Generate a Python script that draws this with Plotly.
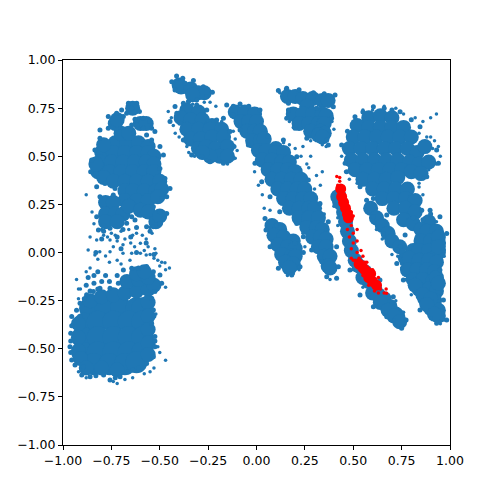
"""Scatter of two point sets. Dense blobs use bigger markers to stand in for many overlapped dots."""
import plotly.graph_objects as go

BLUE = '#1f77b4'
TICKS = [-1.0, -0.75, -0.5, -0.25, 0.0, 0.25, 0.5, 0.75, 1.0]

# (x, y)
lower_left_large = [
    (-.86, -.29), (-.78, -.29), (-.70, -.29), (-.62, -.29), (-.59, -.29),
    (-.89, -.37), (-.82, -.36), (-.74, -.36), (-.66, -.36), (-.59, -.36),
    (-.90, -.44), (-.82, -.44), (-.74, -.44), (-.66, -.44), (-.59, -.44),
    (-.90, -.52), (-.82, -.52), (-.74, -.52), (-.66, -.52), (-.59, -.52),
    (-.84, -.58), (-.76, -.58), (-.68, -.58), (-.62, -.57),
]
lower_left_mid = [
    (-.86, -.25), (-.80, -.23), (-.74, -.22), (-.68, -.21), (-.62, -.20), (-.56, -.19), (-.53, -.17),
    (-.67, -.15), (-.61, -.14), (-.56, -.13), (-.62, -.11), (-.58, -.10),
    (-.92, -.37), (-.92, -.44), (-.92, -.51), (-.91, -.55), (-.88, -.60), (-.80, -.60), (-.72, -.61),
    (-.56, -.26), (-.56, -.33), (-.56, -.40), (-.56, -.47), (-.56, -.53),
]
lower_left_edge = [
    (-.955, -.333), (-.96, -.42), (-.964, -.489), (-.955, -.558), (-.938, -.584), (-.895, -.593), (-.903, -.636),
    (-.86, -.645), (-.79, -.636), (-.757, -.662), (-.705, -.645), (-.662, -.619), (-.61, -.60), (-.568, -.576),
    (-.533, -.541), (-.525, -.489), (-.525, -.437), (-.542, -.368), (-.533, -.299), (-.542, -.238), (-.525, -.203),
    (-.49, -.16), (-.499, -.117), (-.533, -.10), (-.568, -.073), (-.645, -.082), (-.688, -.091), (-.714, -.16),
    (-.757, -.186), (-.809, -.186), (-.843, -.203), (-.878, -.22), (-.912, -.264), (-.912, -.333),
    (-.955, -.38), (-.96, -.46), (-.96, -.52), (-.83, -.64), (-.73, -.65), (-.64, -.61), (-.525, -.46), (-.53, -.33),
    (-.93, -.30), (-.61, -.08), (-.87, -.13), (-.84, -.12), (-.82, -.10), (-.78, -.12), (-.76, -.15),
    (-.88, -.17), (-.84, -.16), (-.80, -.15), (-.72, -.12), (-.86, -.20), (-.82, -.19), (-.89, -.24),
    (-.79, .14), (-.69, .12), (-.62, .13), (-.55, .11), (-.50, .15), (-.80, .07), (-.65, .08), (-.57, .05),
    (-.62, .0), (-.53, -.01), (-.70, .02), (-.83, .0), (-.79, .11), (-.72, .08),
]
upper_left_mid = [
    (-.73, .57), (-.67, .57), (-.61, .57), (-.56, .55), (-.70, .62), (-.66, .62),
    (-.80, .52), (-.74, .52), (-.68, .52), (-.62, .52), (-.56, .52), (-.53, .50),
    (-.81, .47), (-.75, .47), (-.69, .47), (-.63, .47), (-.57, .47), (-.53, .46),
    (-.82, .42), (-.76, .42), (-.70, .42), (-.64, .42), (-.58, .42), (-.53, .42),
    (-.79, .39), (-.74, .37), (-.68, .37), (-.62, .37), (-.56, .37), (-.50, .37),
    (-.68, .32), (-.64, .32), (-.58, .32), (-.52, .32), (-.49, .33),
    (-.68, .27), (-.62, .27), (-.56, .27), (-.51, .29),
    (-.78, .26), (-.74, .26), (-.78, .20), (-.73, .20), (-.69, .20), (-.78, .16), (-.72, .16),
    (-.66, .24), (-.60, .22), (-.56, .21),
    (-.60, .67), (-.57, .67), (-.73, .67), (-.72, .69), (-.64, .75),
    (-.79, .56), (-.83, .46), (-.52, .16), (-.50, .19),
]
upper_left_edge = [
    (-.857, .42), (-.852, .48), (-.835, .532), (-.809, .593), (-.809, .636), (-.766, .645), (-.766, .706), (-.723, .723),
    (-.697, .74), (-.688, .706), (-.645, .662), (-.636, .619), (-.568, .61), (-.525, .628), (-.542, .584), (-.499, .55),
    (-.481, .506), (-.499, .437), (-.473, .385), (-.447, .333), (-.464, .29), (-.49, .281), (-.533, .238), (-.499, .212),
    (-.464, .203), (-.481, .177), (-.533, .134), (-.568, .134), (-.628, .169), (-.645, .186), (-.671, .152), (-.757, .126),
    (-.817, .117), (-.826, .186), (-.809, .29), (-.74, .299), (-.731, .333), (-.783, .359), (-.826, .342), (-.829, .411),
    (-.628, .692), (-.585, .697), (-.55, .68), (-.542, .645), (-.585, .645), (-.619, .662),
    (-.662, .775), (-.619, .775), (-.605, .732), (-.671, .723), (-.645, .749),
]
upper_left_fine = [
    (-.86, .08), (-.826, .065), (-.79, .09), (-.757, .065), (-.73, .09), (-.74, .03), (-.69, .04),
    (-.645, -.004), (-.60, .048), (-.56, .03), (-.525, .02), (-.52, -.004), (-.60, -.004), (-.57, -.013),
    (-.53, -.03), (-.473, -.053), (-.50, -.07), (-.87, .013), (-.835, -.013), (-.81, .004), (-.82, -.035),
    (-.757, .004), (-.69, -.004), (-.654, -.04), (-.78, -.018), (-.80, .12), (-.70, .11), (-.66, .12),
    (-.62, .10), (-.55, .13), (-.52, .15), (-.84, .15), (-.85, .21), (-.88, .30), (-.75, .10), (-.77, .08),
    (-.64, .09), (-.59, .09), (-.57, .07), (-.54, .10), (-.72, .06), (-.68, .07), (-.65, .05), (-.63, .03),
    (-.58, .01), (-.55, -.01), (-.51, -.04), (-.49, -.05), (-.76, -.05), (-.72, -.04), (-.70, -.06),
    (-.86, -.08), (-.88, -.10), (-.93, -.14), (-.92, -.19),
]
lower_left_fine = [
    (-.92, -.24), (-.91, -.19), (-.92, -.62), (-.88, -.65),
    (-.74, -.67), (-.72, -.68), (-.68, -.66), (-.64, -.65), (-.58, -.63), (-.55, -.62),
    (-.53, -.60), (-.50, -.52), (-.51, -.49), (-.47, -.56), (-.52, -.32),
    (-.47, -.18), (-.47, -.09), (-.45, -.08),
]
top_mid_mid = [
    (-.40, .87), (-.39, .86), (-.34, .85), (-.30, .83), (-.27, .83), (-.33, .82),
    (-.36, .74), (-.30, .73), (-.39, .70), (-.34, .69), (-.28, .69), (-.23, .66),
    (-.36, .64), (-.30, .64), (-.24, .64), (-.18, .64),
    (-.34, .59), (-.29, .59), (-.23, .60), (-.17, .60),
    (-.30, .54), (-.26, .55), (-.21, .54), (-.15, .55), (-.19, .50), (-.15, .50), (-.24, .50), (-.28, .52),
]
top_mid_edge = [
    (-.438, .887), (-.413, .917), (-.381, .905), (-.369, .879), (-.326, .893), (-.275, .861), (-.228, .832), (-.257, .81),
    (-.309, .792), (-.421, .844), (-.378, .836), (-.352, .784), (-.421, .758), (-.378, .775), (-.309, .766), (-.257, .74),
    (-.206, .688), (-.171, .697), (-.137, .628), (-.116, .55), (-.123, .489), (-.171, .463), (-.24, .472), (-.283, .498),
    (-.335, .506), (-.378, .584), (-.395, .671), (-.447, .68), (-.412, .723),
]
top_mid_fine = [
    (-.456, .732), (-.44, .70), (-.43, .66), (-.42, .62), (-.40, .60), (-.37, .58), (-.36, .55), (-.35, .52),
    (-.32, .50), (-.15, .46), (-.11, .49), (-.10, .53), (-.11, .59), (-.12, .63), (-.24, .78), (-.21, .76),
    (-.18, .68), (-.35, .78), (-.33, .77), (-.27, .78),
]
band_mid = [
    (-.11, .73), (-.06, .73), (-.01, .72), (-.08, .68), (-.04, .68), (.0, .68),
    (-.05, .63), (-.01, .63), (.02, .63), (-.02, .58), (.02, .58), (.04, .59), (.10, .54),
    (.01, .53), (.05, .53), (.10, .52), (.14, .52), (.03, .48), (.08, .48), (.13, .47), (.17, .47),
    (.06, .43), (.11, .43), (.16, .43), (.20, .42), (.08, .38), (.13, .38), (.18, .38), (.23, .38),
    (.11, .33), (.16, .33), (.21, .33), (.25, .33), (.14, .28), (.19, .28), (.24, .28), (.28, .28),
    (.17, .23), (.22, .23), (.27, .23), (.30, .23), (.22, .18), (.27, .18), (.32, .18),
    (.26, .13), (.31, .13), (.34, .12), (.29, .08), (.33, .08), (.36, .07),
    (.32, .03), (.36, .03), (.35, -.02), (.38, -.02), (.37, -.07), (.38, -.08),
]
band_edge = [
    (-.154, .766), (-.12, .714), (-.085, .636), (-.042, .558), (-.008, .463), (.027, .368), (.07, .29), (.12, .212),
    (.208, .151), (.242, .082), (.285, .013), (.337, -.048), (.363, -.126),
    (-.085, .771), (.018, .74), (.061, .602), (.139, .584), (.208, .498), (.268, .377), (.328, .255), (.371, .16),
    (.414, .03), (.423, -.074), (.414, -.134), (-.12, .76), (-.04, .76),
]
band_lobe_mid = [
    (.08, .14), (.12, .12), (.09, .09), (.14, .08), (.19, .06), (.11, .04), (.16, .03), (.20, .02),
    (.13, -.01), (.18, -.02), (.20, -.02), (.15, -.05), (.19, -.06), (.17, -.08),
]
band_lobe_edge = [
    (.044, .177), (.104, .143), (.199, .048), (.242, .0), (.225, -.074), (.182, -.117), (.113, -.082), (.07, .03), (.049, .117),
]
band_fine = [
    (.14, .57), (.17, .56), (.20, .54), (.23, .50), (.26, .46), (.28, .50),
    (.27, .44), (.30, .33), (.33, .25), (.35, .20), (.38, -.14),
    (.24, .10), (.25, .03), (.22, -.09), (.16, -.12), (.19, -.11), (.34, .42), (.31, .40),
    (.33, .35), (.36, .12), (.42, .14), (.03, .30), (.01, .35), (-.01, .42), (.04, .23), (.07, .22),
]
top_right_mid = [
    (.16, .81), (.20, .81), (.24, .80), (.29, .80), (.34, .79), (.37, .79), (.26, .76),
    (.19, .72), (.24, .72), (.29, .72), (.34, .72), (.36, .71), (.22, .67), (.27, .67), (.32, .67), (.35, .67),
    (.28, .63), (.33, .63), (.35, .62), (.32, .61), (.34, .60),
]
top_right_edge = [
    (.113, .841), (.156, .853), (.294, .83), (.406, .818), (.397, .757), (.311, .749), (.165, .775), (.165, .74), (.156, .697),
    (.199, .645), (.26, .593), (.363, .584), (.371, .558), (.388, .697), (.22, .845), (.35, .825),
]
top_right_fine = [
    (.12, .83), (.15, .85), (.17, .68), (.19, .65), (.39, .68), (.40, .64), (.36, .55),
    (.34, .56), (.24, .55), (.28, .58),
]
right_mid = [
    (.58, .70), (.64, .71), (.70, .70), (.52, .66), (.58, .65), (.64, .65), (.70, .65), (.76, .65),
    (.50, .60), (.56, .60), (.62, .60), (.68, .60), (.74, .60), (.80, .60),
    (.48, .54), (.54, .54), (.60, .54), (.66, .54), (.72, .54), (.78, .54), (.83, .52), (.87, .55),
    (.49, .48), (.55, .48), (.61, .48), (.67, .48), (.73, .48), (.79, .47), (.84, .46), (.89, .47),
    (.51, .43), (.57, .43), (.63, .43), (.69, .43), (.75, .43), (.80, .42), (.85, .41),
    (.55, .38), (.61, .38), (.67, .38), (.73, .39), (.60, .33), (.66, .33), (.72, .33), (.78, .33),
    (.65, .28), (.71, .28), (.77, .28), (.82, .27), (.71, .23), (.77, .23), (.82, .21), (.76, .17), (.81, .15),
    (.89, .16), (.85, .12), (.88, .11), (.93, .11), (.85, .06), (.90, .06), (.94, .05),
    (.81, .01), (.84, .01), (.89, .01), (.94, .0), (.77, -.03), (.79, -.03), (.84, -.04), (.89, -.04), (.93, -.05),
    (.78, -.09), (.83, -.09), (.88, -.09), (.92, -.10), (.81, -.14), (.86, -.14), (.91, -.15),
    (.84, -.19), (.89, -.19), (.93, -.20), (.87, -.24), (.92, -.25), (.90, -.29), (.94, -.30), (.94, -.33),
    (.94, .08), (.94, .03), (.93, -.13), (.94, -.16), (.82, -.17), (.86, -.22), (.90, -.24), (.88, -.27), (.92, -.32),
]
right_streak_mid = [
    (.59, .23), (.62, .18), (.65, .14), (.68, .10), (.70, .06), (.74, .03),
]
right_edge = [
    (.509, .705), (.604, .757), (.742, .731), (.845, .653), (.931, .532), (.94, .463), (.88, .394),
    (.854, .22), (.897, .22), (.948, .186), (.983, .099), (.966, .013), (.948, -.091), (.966, -.247), (.983, -.351),
    (.931, -.368), (.845, -.299), (.759, -.143), (.725, -.057), (.742, .03), (.44, .558), (.458, .463), (.466, .42),
    (.535, .342), (.604, .281), (.673, .195), (.768, .091), (.569, .272), (.604, .186), (.656, .099), (.725, .013),
    (.55, .73), (.66, .75), (.70, .74), (.80, .69), (.47, .63), (.81, .18), (.83, .08), (.86, .17), (.90, .20),
]
right_fine = [
    (.55, .74), (.60, .74), (.66, .76), (.72, .75), (.76, .72), (.82, .70), (.86, .68), (.90, .70), (.93, .72),
    (.84, .62), (.88, .60), (.91, .54), (.94, .55), (.93, .46), (.89, .43), (.86, .39), (.84, .36), (.91, .48),
    (.45, .54), (.44, .50), (.46, .42), (.48, .38), (.52, .36), (.90, .60), (.92, .58), (.95, .50),
    (.97, .05), (.97, -.02), (.96, .10), (.93, .16), (.96, -.30), (.97, -.35), (.95, -.37), (.90, -.34),
    (.80, -.22), (.77, -.14), (.75, -.08), (.74, -.03), (.62, .12), (.65, .07),
    (.68, .04), (.70, -.01), (.73, -.02), (.75, -.06), (.86, .30), (.84, .34),
]
lower_band_mid = [
    (.43, .26), (.45, .21), (.46, .16), (.47, .11), (.48, .06), (.49, .01), (.51, -.04), (.53, -.07),
    (.56, -.10), (.58, -.15), (.61, -.18), (.63, -.22), (.66, -.24), (.69, -.28), (.72, -.32), (.73, -.33),
    (.55, -.13), (.60, -.21), (.64, -.26), (.68, -.30), (.71, -.33), (.74, -.36), (.42, .29),
]
lower_band_edge = [
    (.406, .29), (.432, .203), (.449, .117), (.466, .013), (.483, -.091), (.535, -.221), (.604, -.282), (.673, -.334),
    (.75, -.394), (.773, -.351), (.707, -.23), (.638, -.143), (.552, -.057), (.501, .047), (.483, .151), (.449, .307),
]
lower_band_fine = [
    (.41, .29), (.40, .24), (.42, .18), (.50, -.09), (.53, -.13), (.55, -.18),
    (.58, -.22), (.63, -.28), (.67, -.31), (.71, -.35), (.75, -.38), (.77, -.35), (.76, -.31), (.72, -.25),
]
red_core = [
    (.435, .33), (.44, .29), (.45, .26), (.46, .23), (.47, .20), (.475, .18),
    (.53, -.06), (.55, -.08), (.57, -.10), (.58, -.13), (.60, -.15), (.62, -.17), (.56, -.09), (.59, -.11),
]
red_fine = [
    (.415, .395), (.43, .39), (.43, .37), (.42, .35), (.42, .33), (.44, .345), (.46, .28), (.47, .24), (.49, .21), (.50, .19), (.49, .14),
    (.47, .12), (.50, .10), (.52, .12), (.48, .08), (.50, .05), (.52, .06), (.49, .02), (.52, .0), (.54, .01), (.53, -.03),
    (.55, -.02), (.50, -.04), (.49, -.03), (.64, -.19), (.66, -.21), (.67, -.19), (.61, -.20), (.63, -.21), (.56, -.05),
    (.51, -.04), (.57, -.05), (.60, -.09), (.63, -.13), (.55, -.12), (.58, -.17), (.672, -.212),
]

blue_large = lower_left_large
blue_mid = (lower_left_mid + upper_left_mid + top_mid_mid + band_mid + band_lobe_mid
            + top_right_mid + right_mid + right_streak_mid + lower_band_mid)
blue_edge = (lower_left_edge + upper_left_edge + top_mid_edge + band_edge + band_lobe_edge
             + top_right_edge + right_edge + lower_band_edge)
blue_fine = (upper_left_fine + lower_left_fine + top_mid_fine + band_fine + top_right_fine
             + right_fine + lower_band_fine)


def add_points(fig, points, color, size):
    fig.add_trace(go.Scatter(
        x=[p[0] for p in points],
        y=[p[1] for p in points],
        mode='markers',
        marker=dict(color=color, size=size, line=dict(width=0)),
        hoverinfo='skip',
    ))


fig = go.Figure()
add_points(fig, blue_large, BLUE, 22)
add_points(fig, blue_mid, BLUE, 15)
add_points(fig, blue_edge, BLUE, 5)
add_points(fig, blue_fine, BLUE, 3.5)
add_points(fig, red_core, 'red', 11)
add_points(fig, red_fine, 'red', 3.5)

axis_style = dict(
    range=[-1, 1],
    tickvals=TICKS,
    tickformat='.2f',
    ticks='outside',
    ticklen=4,
    tickwidth=1,
    tickcolor='black',
    showline=True,
    mirror=True,
    linecolor='black',
    linewidth=1,
    showgrid=False,
    zeroline=False,
    automargin=False,
)

# the page body adds 8px on the left and top
fig.update_layout(
    width=500,
    height=500,
    margin=dict(l=55, r=58, t=52, b=63),
    plot_bgcolor='white',
    paper_bgcolor='white',
    showlegend=False,
    font=dict(family='DejaVu Sans', size=12.5, color='black'),
    xaxis=axis_style,
    yaxis=axis_style,
)

fig.write_html("out.html", config=dict(displayModeBar=False))
